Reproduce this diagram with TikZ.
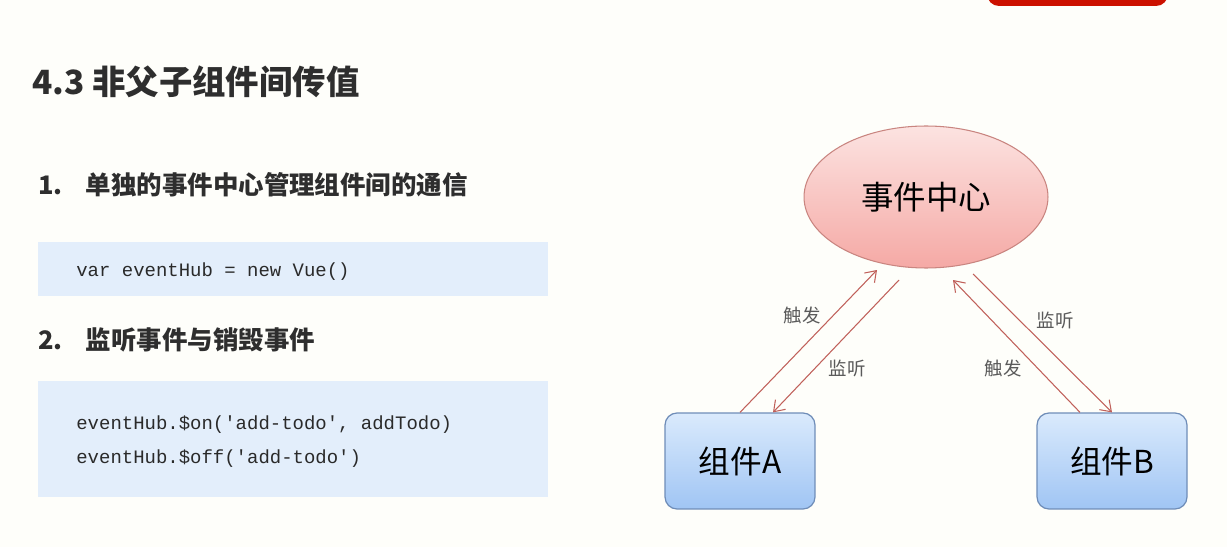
\documentclass[tikz,border=0pt]{standalone}
\usepackage{fontspec}
\setmainfont{Noto Sans CJK SC}
\setmonofont{Liberation Mono}
\usetikzlibrary{arrows.meta,shapes.geometric}
\definecolor{paper}{HTML}{FEFEFA}
\definecolor{barred}{HTML}{CC1100}
\definecolor{headink}{HTML}{2E2E2E}
\definecolor{codebg}{HTML}{E3EEFB}
\definecolor{codeink}{HTML}{2A2A2A}
\definecolor{hubtop}{HTML}{FCE3E1}
\definecolor{hubbot}{HTML}{F5A9A5}
\definecolor{hubline}{HTML}{C98580}
\definecolor{comptop}{HTML}{DAEAFC}
\definecolor{compbot}{HTML}{A0C5F4}
\definecolor{compline}{HTML}{6F8DB8}
\definecolor{flowcol}{HTML}{C0605A}
\definecolor{tagink}{HTML}{5A5A5A}

\begin{document}
\begin{tikzpicture}[
  x=0.02cm, y=-0.02cm,
  >={Straight Barb[length=2mm,width=2.8mm]},
  title/.style={anchor=west,inner sep=0pt,text=headink,font=\bfseries\fontsize{19}{23}\selectfont},
  heading/.style={anchor=west,inner sep=0pt,text=headink,font=\bfseries\fontsize{14.5}{17}\selectfont},
  codebox/.style={fill=codebg,minimum width=10.2cm,inner sep=0pt},
  code/.style={anchor=west,inner sep=0pt,text=codeink,font=\ttfamily\fontsize{10.8}{13}\selectfont},
  hub/.style={ellipse,draw=hubline,line width=0.6pt,top color=hubtop,bottom color=hubbot,
    minimum width=4.88cm,minimum height=2.84cm,font=\fontsize{18.5}{22}\selectfont},
  comp/.style={draw=compline,line width=0.7pt,rounded corners=0.24cm,top color=comptop,
    bottom color=compbot,minimum width=3cm,minimum height=1.92cm,font=\fontsize{18}{22}\selectfont},
  flow/.style={->,draw=flowcol,line width=0.6pt},
  tag/.style={text=tagink,font=\fontsize{10.5}{12}\selectfont}
]
  \useasboundingbox (0,0) rectangle (1227,547);
  \fill[paper] (0,0) rectangle (1227,547);
  \begin{scope}
    \clip (0,0) rectangle (1227,547);
    \fill[barred,rounded corners=0.24cm] (987,-30) rectangle (1168,6);
  \end{scope}

  % left column
  \node[title] (title) at (32,82) {4.3 非父子组件间传值};

  \node[heading] (headOne) at (38,185) {1.\hspace{0.9em}单独的事件中心管理组件间的通信};
  \node[codebox,minimum height=1.08cm] (codeOne) at (293,269) {};
  \node[code] (newHub) at (76,272) {var eventHub = new Vue()};

  \node[heading] (headTwo) at (38,340) {2.\hspace{0.9em}监听事件与销毁事件};
  \node[codebox,minimum height=2.32cm] (codeTwo) at (293,439) {};
  \node[code] (onLine) at (76,425) {eventHub.\$on('add-todo', addTodo)};
  \node[code] (offLine) at (76,459) {eventHub.\$off('add-todo')};

  % event hub diagram
  \node[hub] (hub) at (926,197) {事件中心};
  \node[comp] (compA) at (740,461) {组件A};
  \node[comp] (compB) at (1112,461) {组件B};

  \coordinate (hubInA) at (877,270);
  \coordinate (hubOutA) at (899,280);
  \coordinate (hubInB) at (953,280);
  \coordinate (hubOutB) at (973,274);

  \draw[flow] (compA.north) -- (hubInA);
  \draw[flow] (hubOutA) -- ([xshift=0.66cm]compA.north);
  \draw[flow] ([xshift=-0.64cm]compB.north) -- (hubInB);
  \draw[flow] (hubOutB) -- (compB.north);

  \node[tag] (fireA) at (802,315) {触发};
  \node[tag] (hearA) at (847,368) {监听};
  \node[tag] (fireB) at (1003,368) {触发};
  \node[tag] (hearB) at (1055,320) {监听};
\end{tikzpicture}
\end{document}
